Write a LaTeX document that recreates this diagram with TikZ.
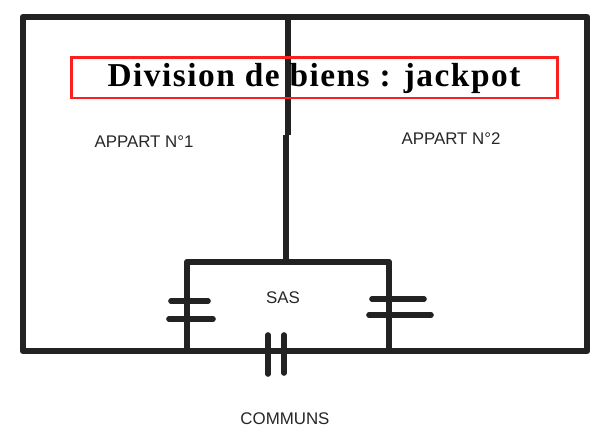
\documentclass[tikz,border=0pt]{standalone}
\usepackage{fontspec}
\setmainfont{Liberation Sans}
\newfontfamily\titlefont[LetterSpace=4.5]{Liberation Serif}
\definecolor{wallgray}{HTML}{222222}
\definecolor{titlered}{HTML}{FB2020}
\tikzset{
    wall/.style={draw=wallgray, line width=3.6pt, line join=round},
    door/.style={draw=wallgray, line width=3.2pt, line cap=round},
    roomlabel/.style={text=black!85, font=\fontsize{9.6pt}{11pt}\selectfont, inner sep=0pt},
}
\begin{document}
\begin{tikzpicture}[x=0.02cm, y=-0.02cm]
            \useasboundingbox (0, 0) rectangle (600, 440);

            \draw[wall] (23, 17) rectangle (587, 351);
            \draw[wall] (288, 17) -- (288, 135);
            \draw[wall] (286, 135) -- (286, 262);
            \draw[wall] (187, 353) -- (187, 262) -- (389, 262) -- (389, 351);

            \draw[door] (171, 301) -- (208, 301);
            \draw[door] (169, 319) -- (213, 319);
            \draw[door] (372, 299) -- (424, 299);
            \draw[door] (369, 315) -- (431, 315);
            \draw[door] (268, 335) -- (268, 374);
            \draw[door] (284, 335) -- (284, 373);

            \node[roomlabel] (appart1) at (144, 142) { APPART N°1 };
            \node[roomlabel] (appart2) at (451, 139) { APPART N°2 };
            \node[roomlabel] (sas) at (283, 298) { SAS };
            \node[roomlabel] (communs) at (285, 419) { COMMUNS };

            \draw[draw=titlered, line width=1.7pt] (71.5, 57.5) rectangle (557.5, 98);
            \node[inner sep=0pt, font=\fontsize{19pt}{20pt}\selectfont\titlefont\bfseries] (title) at (314, 78) { Division de biens : jackpot };
        \end{tikzpicture}
\end{document}
